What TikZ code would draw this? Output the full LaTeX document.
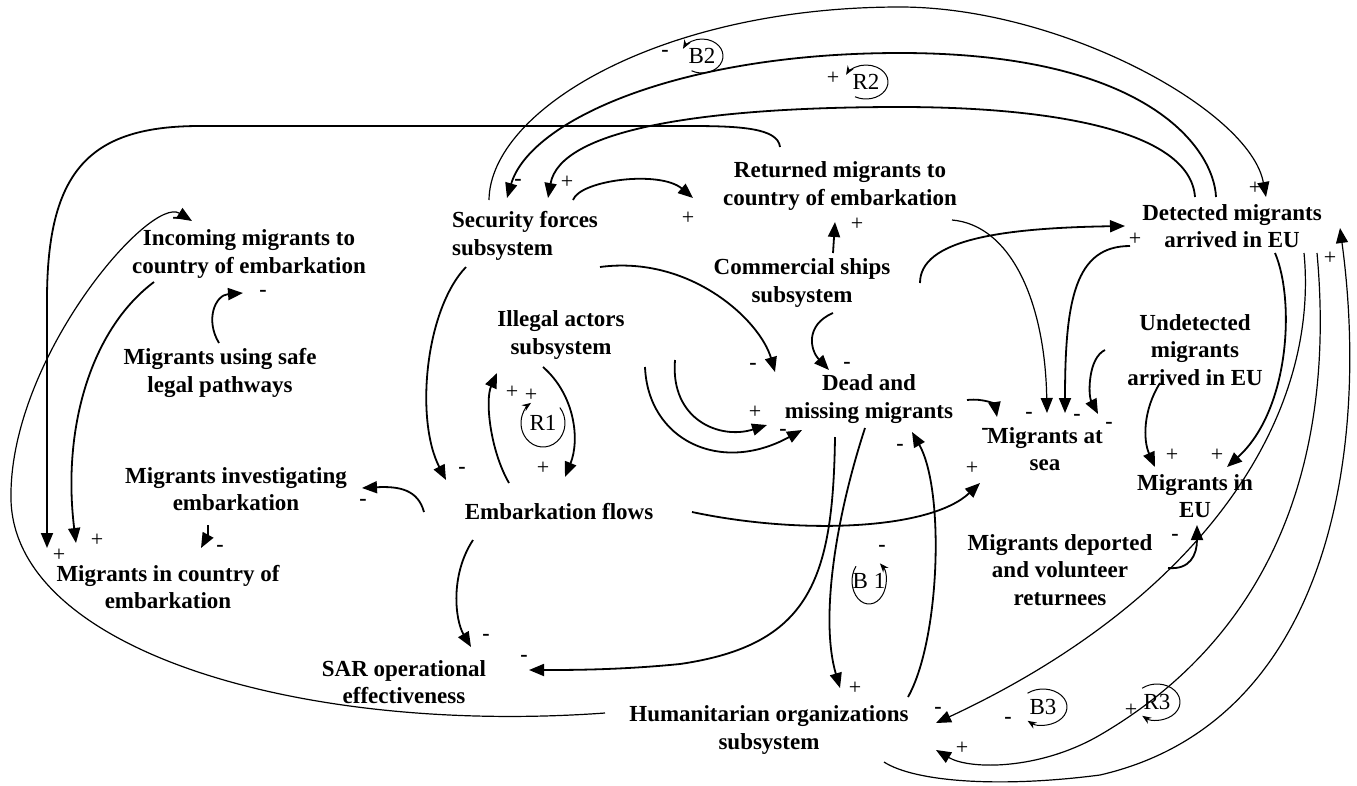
\documentclass[tikz,border=0pt]{standalone}
\usepackage{fontspec}
\setmainfont{Liberation Serif}
\usetikzlibrary{arrows.meta,calc}

\tikzset{
  var/.style={font=\bfseries\fontsize{23}{27.5}\selectfont, align=center, inner sep=0pt},
  plussign/.style={font=\fontsize{22}{22}\selectfont, inner sep=0pt},
  minussign/.style={font=\bfseries\fontsize{22}{22}\selectfont, inner sep=0pt},
  looplab/.style={font=\fontsize{23}{23}\selectfont, inner sep=0pt},
  link/.style={line width=1.8pt, ->},
  linkthin/.style={line width=1.2pt, ->},
  looparc/.style={line width=1pt, -{Stealth[length=9pt,width=7pt]}}
}

\begin{document}
\begin{tikzpicture}[x=1pt,y=-1pt,>={Triangle[length=15pt,width=12pt]}]
\useasboundingbox (0,0) rectangle (1357,785);
% Variables
  \node[var, align=left] (SF) at (525,236) {Security forces\\subsystem};
  \node[var] (RM) at (840,186) {Returned migrants to\\country of embarkation};
  \node[var] (DM) at (1232,226) {Detected migrants\\arrived in EU};
  \node[var] (IN) at (249,254) {Incoming migrants to\\country of embarkation};
  \node[var] (CS) at (802,283) {Commercial ships\\subsystem};
  \node[var] (IA) at (561,335) {Illegal actors\\subsystem};
  \node[var] (MS) at (220,373) {Migrants using safe\\legal pathways};
  \node[var] (UM) at (1195,350) {Undetected\\migrants\\arrived in EU};
  \node[var] (DMM) at (869,399) {Dead and\\missing migrants};
  \node[var] (SEA) at (1045,449) {Migrants at\\sea};
  \node[var] (MI) at (236,489) {Migrants investigating\\embarkation};
  \node[var] (EF) at (559,512) {Embarkation flows};
  \node[var] (EU) at (1195,496) {Migrants in\\EU};
  \node[var] (MC) at (168,587) {Migrants in country of\\embarkation};
  \node[var] (MD) at (1060,570) {Migrants deported\\and volunteer\\returnees};
  \node[var] (SAR) at (404,682) {SAR operational\\effectiveness};
  \node[var] (HO) at (769,730) {Humanitarian organizations\\subsystem};
  \coordinate (spa) at (675,360);
  \coordinate (spb) at (645,367);
% Top arcs
  \draw[linkthin] ($(SF)+(-36,-36)$) .. controls (490,110) and (660,7) .. (900,7)
    .. controls (1060,7) and (1250,110) .. ($(DM)+(34,-29)$);
  \draw[link] ($(DM)+(-16,-29)$) .. controls (1214,150) and (1150,53) .. (900,53)
    .. controls (680,53) and (530,120) .. ($(SF)+(-18,-38)$);
  \draw[link] ($(DM)+(-37,-29)$) .. controls (1190,130) and (1050,107) .. (900,107)
    .. controls (700,107) and (560,130) .. ($(SF)+(23,-38)$);
  \draw[link] ($(SF)+(48,-36)$) .. controls (580,180) and (660,170) .. ($(RM)+(-147,12)$);
  \draw[link] ($(RM)+(-60,-39)$) .. controls (778,128) and (740,126) .. (690,126) -- (200,126)
    .. controls (90,126) and (47,170) .. (47,300) -- ($(MC)+(-121,-39)$);
% Left side
  \draw[linkthin] ($(HO)+(-164,-17)$) .. controls (300,735) and (15,650) .. (11,500)
    .. controls (8,360) and (150,195) .. ($(IN)+(-57,-33)$);
  \draw[link] ($(IN)+(-95,28)$) .. controls (90,330) and (62,430) .. ($(MC)+(-92,-44)$);
  \draw[link] ($(MS)+(-1,-30)$) .. controls (205,320) and (215,295) .. ($(IN)+(-6,39)$);
  \draw[link] ($(EF)+(-135,0)$) .. controls (418,490) and (400,486) .. ($(MI)+(126,-1)$);
  \draw[link] ($(MI)+(-28,36)$) .. controls (208,535) .. ($(MC)+(33,-39)$);
% Middle
  \draw[link] ($(SF)+(-59,31)$) .. controls (425,310) and (415,420) .. ($(EF)+(-113,-32)$);
  \draw[link] ($(EF)+(-50,-29)$) .. controls (490,450) and (485,400) .. ($(IA)+(-64,38)$);
  \draw[link] ($(IA)+(-18,32)$) .. controls (575,395) and (580,440) .. ($(EF)+(6,-35)$);
  \draw[link] ($(SF)+(75,31)$) .. controls (690,255) and (760,320) .. ($(DMM)+(-94,-27)$);
  \draw[link] (spa) .. controls (670,420) and (720,440) .. ($(DMM)+(-102,26)$);
  \draw[link] (spb) .. controls (648,440) and (720,475) .. ($(DMM)+(-67,31)$);
  \draw[link] ($(CS)+(31,30)$) .. controls (805,325) and (810,350) .. ($(DMM)+(-40,-29)$);
  \draw[link] ($(CS)+(31,-30)$) -- ($(RM)+(-5,36)$);
  \draw[link] ($(CS)+(118,0)$) .. controls (920,240) and (1000,228) .. ($(DM)+(-107,0)$);
  \draw[link] ($(EF)+(-86,28)$) .. controls (450,575) and (455,620) .. ($(SAR)+(67,-35)$);
  \draw[link] ($(EF)+(133,0)$) .. controls (800,535) and (930,530) .. ($(SEA)+(-65,34)$);
% Into migrants at sea
  \draw[link] ($(DM)+(-102,20)$) .. controls (1075,246) and (1065,300) .. ($(SEA)+(20,-36)$);
  \draw[linkthin] ($(RM)+(112,34)$) .. controls (1010,225) and (1045,300) .. ($(SEA)+(2,-36)$);
  \draw[link] ($(UM)+(-90,0)$) .. controls (1088,358) and (1088,395) .. ($(SEA)+(53,-35)$);
  \draw[link] ($(DMM)+(98,1)$) .. controls (985,398) and (995,405) .. ($(SEA)+(-48,-32)$);
% Into migrants in EU
  \draw[link] ($(DM)+(43,27)$) .. controls (1295,300) and (1290,410) .. ($(EU)+(32,-29)$);
  \draw[link] ($(UM)+(-35,33)$) .. controls (1143,410) and (1143,440) .. ($(EU)+(-40,-29)$);
  \draw[link] ($(MD)+(108,-2)$) .. controls (1190,570) and (1197,555) .. ($(EU)+(2,29)$);
% Dead and missing, humanitarian
  \draw[link] ($(DMM)+(-4,29)$) .. controls (835,520) and (820,620) .. ($(HO)+(71,-42)$);
  \draw[link] ($(HO)+(139,-33)$) .. controls (940,640) and (945,490) .. ($(DMM)+(43,33)$);
  \draw[link] ($(DMM)+(-34,38)$) .. controls (833,580) and (810,645) .. (680,664)
    .. controls (620,670) and (570,670) .. ($(SAR)+(125,-12)$);
% Right side
  \draw[linkthin] ($(DM)+(72,27)$) .. controls (1320,420) and (1200,600) .. ($(HO)+(167,-7)$);
  \draw[linkthin] ($(DM)+(85,27)$) .. controls (1335,450) and (1280,630) .. (1100,735)
    .. controls (1040,770) and (970,770) .. ($(HO)+(167,20)$);
  \draw[linkthin] ($(HO)+(115,32)$) .. controls (915,782) and (1000,788) .. (1100,775)
    .. controls (1330,722) and (1370,450) .. ($(DM)+(108,2)$);
% Loops
  \node[looplab] (r1) at (543,423) {R1};
  \draw[looparc] ([shift={(40:22pt and 24pt)}]r1.center) arc[start angle=40, end angle=-237, x radius=22pt, y radius=24pt];
  \node[looplab] (b2) at (702,56) {B2};
  \draw[looparc] ([shift={(-120:21pt and 17pt)}]b2.center) arc[start angle=-120, end angle=155, x radius=21pt, y radius=17pt];
  \node[looplab] (r2) at (866,82) {R2};
  \draw[looparc] ([shift={(-120:22pt and 17pt)}]r2.center) arc[start angle=-120, end angle=155, x radius=22pt, y radius=17pt];
  \node[looplab] (b1) at (869,581) {B 1};
  \draw[looparc] ([shift={(140:17pt and 23pt)}]b1.center) arc[start angle=140, end angle=410, x radius=17pt, y radius=23pt];
  \node[looplab] (b3) at (1043,707) {B3};
  \draw[looparc] ([shift={(130:24pt and 18pt)}]b3.center) arc[start angle=130, end angle=-130, x radius=24pt, y radius=18pt];
  \node[looplab] (r3) at (1157,702) {R3};
  \draw[looparc] ([shift={(130:23pt and 18pt)}]r3.center) arc[start angle=130, end angle=-130, x radius=23pt, y radius=18pt];
% Polarities
  \node[plussign] (l1) at (1255,188) {+};
  \node[minussign] (l2) at (518,182) {-};
  \node[plussign] (l3) at (567,182) {+};
  \node[plussign] (l4) at (688,218) {+};
  \node[minussign] (l5) at (665,53) {-};
  \node[plussign] (l6) at (833,78) {+};
  \node[plussign] (l7) at (59,555) {+};
  \node[plussign] (l8) at (97,540) {+};
  \node[minussign] (l9) at (176,220) {-};
  \node[minussign] (l10) at (263,293) {-};
  \node[minussign] (l11) at (462,470) {-};
  \node[plussign] (l12) at (512,392) {+};
  \node[plussign] (l13) at (531,395) {+};
  \node[plussign] (l14) at (543,468) {+};
  \node[minussign] (l15) at (753,366) {-};
  \node[plussign] (l16) at (755,412) {+};
  \node[minussign] (l17) at (783,432) {-};
  \node[minussign] (l18) at (847,365) {-};
  \node[plussign] (l19) at (857,224) {+};
  \node[plussign] (l20) at (1135,239) {+};
  \node[minussign] (l21) at (1029,415) {-};
  \node[minussign] (l22) at (1077,417) {-};
  \node[minussign] (l23) at (1109,425) {-};
  \node[minussign] (l24) at (985,431) {-};
  \node[plussign] (l25) at (1172,455) {+};
  \node[plussign] (l26) at (1217,455) {+};
  \node[minussign] (l27) at (1175,537) {-};
  \node[minussign] (l28) at (938,710) {-};
  \node[plussign] (l29) at (962,748) {+};
  \node[minussign] (l30) at (1008,720) {-};
  \node[plussign] (l31) at (1131,710) {+};
  \node[plussign] (l32) at (1330,258) {+};
  \node[plussign] (l33) at (855,688) {+};
  \node[minussign] (l34) at (900,447) {-};
  \node[minussign] (l35) at (882,548) {-};
  \node[minussign] (l36) at (524,658) {-};
  \node[plussign] (l37) at (972,468) {+};
  \node[minussign] (l38) at (363,502) {-};
  \node[minussign] (l39) at (220,548) {-};
  \node[minussign] (l40) at (486,637) {-};
\end{tikzpicture}
\end{document}
